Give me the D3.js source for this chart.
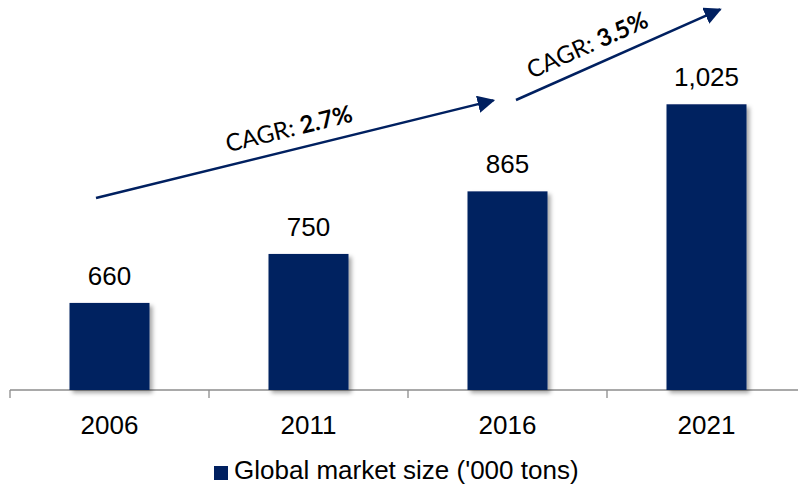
<html>
    <head>
        <title>Global market size</title>
        <style>
            body { margin: 0; background: #fff; }
        </style>
    </head>
    <body>
        <div id="chart-area"></div>
        <script src="https://d3js.org/d3.v7.min.js"></script>
        <script>
            // data
            const years = ["2006", "2011", "2016", "2021"]
            const sizes = [660, 750, 865, 1025]
            const cagrLabels = ["2.7%", "3.5%"]
            const legendLabel = "Global market size ('000 tons)"

            const W = 798, H = 486
            const BASE = 390
            const NAVY = "#002060"
            const FONT = "'Liberation Sans', Arial, sans-serif"

            const svg = d3.select("#chart-area")
                .append("svg")
                    .attr("width", W)
                    .attr("height", H)

            // shadow for bars
            const defs = svg.append("defs")
            const f = defs.append("filter").attr("id", "shadow")
                .attr("x", "-20%").attr("y", "-20%").attr("width", "150%").attr("height", "150%")
            f.append("feDropShadow")
                .attr("dx", 3).attr("dy", 3).attr("stdDeviation", 2)
                .attr("flood-color", "#000").attr("flood-opacity", 0.35)

            const arrowHead = defs.append("marker")
                .attr("id", "head")
                .attr("viewBox", "0 0 10 10")
                .attr("refX", 9).attr("refY", 5)
                .attr("markerWidth", 7).attr("markerHeight", 7)
                .attr("markerUnits", "strokeWidth")
                .attr("orient", "auto")
            arrowHead.append("path").attr("d", "M0,0 L10,5 L0,10 z").attr("fill", NAVY)

            // scales
            const x = d3.scaleBand()
                .domain(years)
                .range([10, 10 + 199 * 4])
                .paddingInner(0)
                .paddingOuter(0)

            const y = d3.scaleLinear()
                .domain([500, 1200])
                .range([BASE, BASE - 700 * 0.5442])

            const barW = 80

            // axis
            const xAxis = d3.axisBottom(x).tickSize(0).tickPadding(0).tickFormat("")
            const axisG = svg.append("g")
                .attr("transform", `translate(0, ${BASE})`)
                .call(xAxis)
            axisG.select(".domain").remove()
            axisG.append("line")
                .attr("x1", 10).attr("x2", W)
                .attr("stroke", "#8c8c8c").attr("stroke-width", 1.3)
            // boundary ticks
            axisG.selectAll(".bt")
                .data(years.concat(["end"]))
                .enter().append("line")
                    .attr("class", "bt")
                    .attr("x1", (d, i) => 10 + i * x.bandwidth())
                    .attr("x2", (d, i) => 10 + i * x.bandwidth())
                    .attr("y1", 0).attr("y2", 8)
                    .attr("stroke", "#8c8c8c").attr("stroke-width", 1.3)

            // category labels
            svg.selectAll(".cat")
                .data(years)
                .enter().append("text")
                    .attr("class", "cat")
                    .attr("x", d => x(d) + x.bandwidth() / 2)
                    .attr("y", 434)
                    .attr("text-anchor", "middle")
                    .attr("font-family", FONT)
                    .attr("font-size", "26px")
                    .attr("fill", "#000")
                    .text(d => d)

            // bars
            svg.selectAll(".bar")
                .data(sizes)
                .enter().append("rect")
                    .attr("class", "bar")
                    .attr("x", (d, i) => x(years[i]) + x.bandwidth() / 2 - barW / 2)
                    .attr("y", d => y(d))
                    .attr("width", barW)
                    .attr("height", d => BASE - y(d))
                    .attr("fill", NAVY)
                    .attr("filter", "url(#shadow)")

            // value labels
            svg.selectAll(".val")
                .data(sizes)
                .enter().append("text")
                    .attr("class", "val")
                    .attr("x", (d, i) => x(years[i]) + x.bandwidth() / 2)
                    .attr("y", d => y(d) - 18)
                    .attr("text-anchor", "middle")
                    .attr("font-family", FONT)
                    .attr("font-size", "26px")
                    .attr("fill", "#000")
                    .text(d => d3.format(",")(d))

            // CAGR arrows
            const arrows = [
                { x1: 96, y1: 198, x2: 495, y2: 100, cx: 294 },
                { x1: 516, y1: 100, x2: 721, y2: 9, cx: 596 }
            ]
            arrows.forEach((a, i) => {
                svg.append("line")
                    .attr("x1", a.x1).attr("y1", a.y1)
                    .attr("x2", a.x2 - (a.x2 - a.x1) * 0.004).attr("y2", a.y2 - (a.y2 - a.y1) * 0.004)
                    .attr("stroke", NAVY)
                    .attr("stroke-width", 2.5)
                    .attr("marker-end", "url(#head)")

                const ang = Math.atan2(a.y2 - a.y1, a.x2 - a.x1) * 180 / Math.PI
                const t = (a.cx - a.x1) / (a.x2 - a.x1)
                const cy = a.y1 + t * (a.y2 - a.y1)
                const txt = svg.append("text")
                    .attr("transform", `translate(${a.cx}, ${cy}) rotate(${ang}) translate(0, -13)`)
                    .attr("text-anchor", "middle")
                    .attr("font-family", "Lato, 'Open Sans', sans-serif")
                    .attr("font-size", "24px")
                    .attr("fill", "#000")
                txt.append("tspan").text("CAGR: ")
                txt.append("tspan").attr("font-weight", "bold").text(cagrLabels[i])
            })

            // legend
            const legend = svg.append("g")
            legend.append("rect")
                .attr("x", 214).attr("y", 466)
                .attr("width", 14).attr("height", 14)
                .attr("fill", NAVY)
            legend.append("text")
                .attr("x", 234).attr("y", 479)
                .attr("font-family", FONT)
                .attr("font-size", "26px")
                .attr("fill", "#000")
                .text(legendLabel)
        </script>
    </body>
</html>
